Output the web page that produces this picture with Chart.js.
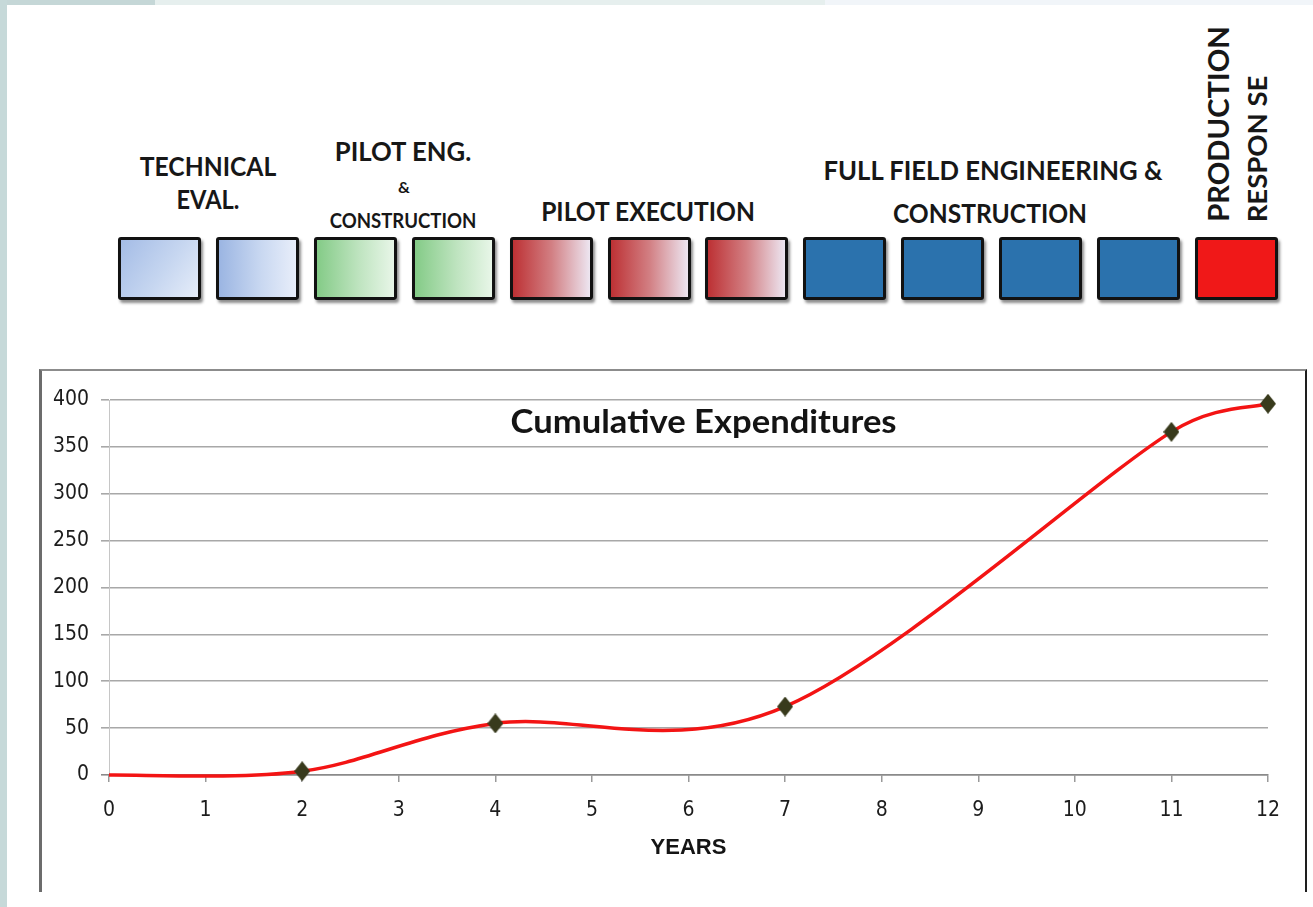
<!DOCTYPE html>
<html>
<head>
<meta charset="utf-8">
<title>Cumulative Expenditures</title>
<script src="https://cdn.jsdelivr.net/npm/chart.js@4.4.1/dist/chart.umd.min.js"></script>
<style>
  html, body { margin: 0; padding: 0; background: #fff; }
  body { width: 1313px; height: 907px; position: relative; overflow: hidden;
         font-family: Lato, "Open Sans", sans-serif; }
  .strip { position: absolute; }
  .phase { position: absolute; font-weight: 700; color: #171717; white-space: nowrap;
           line-height: 1; letter-spacing: 0; }
  .box { position: absolute; top: 237px; width: 77px; height: 57px;
         border: 3px solid #121212; border-radius: 3px;
         box-shadow: 2px 3px 3px rgba(0,0,0,0.45); }
  #frame { position: absolute; left: 39px; top: 369px; width: 1263px; height: 521px;
           border-left: 3px solid #6c6c6c; border-top: 2px solid #8c8c8c;
           border-right: 2px solid #1e1e1e; }
  #wrap { position: absolute; left: 42px; top: 372px; width: 1262px; height: 518px; }
</style>
</head>
<body>
<div class="strip" style="left:0;top:0;width:155px;height:5px;background:#c5d7d7"></div>
<div class="strip" style="left:155px;top:0;width:670px;height:5px;background:#e6efee"></div>
<div class="strip" style="left:825px;top:0;width:488px;height:5px;background:#f1f5f9"></div>
<div class="strip" style="left:0;top:0;width:7px;height:907px;background:#c6d9d9"></div>

<div id="phases"></div>

<div id="frame"></div>
<div id="wrap"><canvas id="chart"></canvas></div>

<script>
// Project schedule: phase names and how many years each phase lasts
const phaseLabels = [
  ['TECHNICAL', 'EVAL.'],
  ['PILOT ENG.', '&', 'CONSTRUCTION'],
  ['PILOT EXECUTION'],
  ['FULL FIELD ENGINEERING &', 'CONSTRUCTION'],
  ['PRODUCTION', 'RESPON SE']
];
const phaseYears = [2, 2, 3, 4, 1];

// Cumulative expenditures at the end of each milestone year
const years = [0, 2, 4, 7, 11, 12];
const expenditures = [0, 4, 55, 73, 366, 396];

const chartTitle = 'Cumulative Expenditures';
const xAxisTitle = 'YEARS';

// ---- phase boxes, one per year ----
const boxFills = [
  ['linear-gradient(125deg, #a4bce6 0%, #c6d6f0 55%, #e6edf9 100%)',
   'linear-gradient(90deg, #9bb5e2 0%, #c9d8f1 55%, #e8eefa 100%)'],
  ['linear-gradient(90deg, #84cb87 0%, #bfe4c0 55%, #e8f6e8 100%)'],
  ['linear-gradient(90deg, #bd3134 0%, #d27f83 50%, #ede6f1 100%)'],
  ['#2b72ad'],
  ['#f01818']
];
const phasesEl = document.getElementById('phases');
let yearIndex = 0;
phaseYears.forEach((n, p) => {
  for (let k = 0; k < n; k++) {
    const b = document.createElement('div');
    b.className = 'box';
    b.style.left = (118 + yearIndex * 97.9).toFixed(1) + 'px';
    const fills = boxFills[p];
    b.style.background = fills[Math.min(k, fills.length - 1)];
    phasesEl.appendChild(b);
    yearIndex++;
  }
});

// ---- phase captions ----
// [phase, line, centre x, centre y, font size, width, vertical]
const captionLayout = [
  [0, 0, 208, 165, 27, 136, false],
  [0, 1, 208, 198, 27, 63, false],
  [1, 0, 403, 150, 27, 137, false],
  [1, 1, 404, 187, 15, 12, false],
  [1, 2, 403, 220, 20, 147, false],
  [2, 0, 648, 210, 27, 214, false],
  [3, 0, 993, 169, 27, 339, false],
  [3, 1, 990, 212, 27, 194, false],
  [4, 0, 1218, 124, 28, 196, true],
  [4, 1, 1257, 149, 26, 147, true]
];
captionLayout.forEach(([p, l, cx, cy, fs, w, vertical]) => {
  const d = document.createElement('div');
  d.className = 'phase';
  d.textContent = phaseLabels[p][l];
  d.style.left = cx + 'px';
  d.style.top = cy + 'px';
  d.style.fontSize = fs + 'px';
  phasesEl.appendChild(d);
  const k = w / d.offsetWidth;
  d.style.transform = 'translate(-50%, -50%)' + (vertical ? ' rotate(-90deg)' : '') + ' scaleX(' + k.toFixed(3) + ')';
});

// ---- diamond marker ----
function diamond(w, h, color) {
  const c = document.createElement('canvas');
  c.width = w; c.height = h;
  const g = c.getContext('2d');
  g.beginPath();
  g.moveTo(w / 2, 0); g.lineTo(w, h / 2); g.lineTo(w / 2, h); g.lineTo(0, h / 2);
  g.closePath();
  g.fillStyle = color;
  g.fill();
  return c;
}
const marker = diamond(16, 20, '#383a1c');

// Smooth line through the points: Catmull-Rom tangents, with each control
// handle limited to half of the segment it sits on so the curve never overshoots
const smoothCurve = {
  id: 'smoothCurve',
  beforeDatasetDraw(chart, args) {
    const meta = args.meta;
    meta.dataset.updateControlPoints(chart.chartArea, meta.iScale.axis);
    const pts = meta.data;
    const dist = (a, b) => Math.hypot(b.x - a.x, b.y - a.y);
    for (let i = 0; i < pts.length; i++) {
      const p = pts[i], prev = pts[i - 1] || p, next = pts[i + 1] || p;
      const dx = (next.x - prev.x) / 6, dy = (next.y - prev.y) / 6;
      const len = Math.hypot(dx, dy) || 1;
      const k1 = Math.min(1, dist(prev, p) / 2 / len);
      const k2 = Math.min(1, dist(p, next) / 2 / len);
      p.cp1x = p.x - dx * k1; p.cp1y = p.y - dy * k1;
      p.cp2x = p.x + dx * k2; p.cp2y = p.y + dy * k2;
    }
  }
};

// Title written inside the plot area
const innerTitle = {
  id: 'innerTitle',
  afterDraw(chart) {
    const { ctx, chartArea: a } = chart;
    ctx.save();
    ctx.font = 'bold 33px Lato, "Open Sans", sans-serif';
    ctx.fillStyle = '#141414';
    ctx.textAlign = 'center';
    ctx.textBaseline = 'middle';
    const w = ctx.measureText(chartTitle).width;
    ctx.translate(a.left + a.width * 0.513, a.top + 22);
    ctx.scale(386 / w, 1);
    ctx.fillText(chartTitle, 0, 0);
    ctx.restore();
  }
};

const tickFont = { family: '"Liberation Sans Narrow", "Arial Narrow", "DejaVu Sans Condensed", sans-serif', size: 21 };

new Chart(document.getElementById('chart'), {
  type: 'line',
  data: {
    datasets: [{
      data: years.map((x, i) => ({ x, y: expenditures[i] })),
      borderColor: '#f31414',
      borderWidth: 3.5,
      tension: 0.4,
      fill: false,
      clip: false,
      pointStyle: marker,
      pointRadius: years.map((x, i) => (i === 0 ? 0 : 6)),
      pointHoverRadius: years.map((x, i) => (i === 0 ? 0 : 6))
    }]
  },
  options: {
    responsive: true,
    maintainAspectRatio: false,
    animation: false,
    layout: { padding: { top: 28, right: 36, bottom: 0, left: 0 } },
    plugins: { legend: { display: false }, tooltip: { enabled: false } },
    scales: {
      x: {
        type: 'linear',
        min: 0, max: 12,
        ticks: { stepSize: 1, color: '#1c1c1c', font: tickFont, padding: 16, maxRotation: 0 },
        grid: { drawOnChartArea: false, drawTicks: true, tickLength: 7, color: '#9a9a9a', lineWidth: 1.5 },
        border: { display: true, color: '#8a8a8a', width: 1.5 },
        title: { display: true, text: xAxisTitle, color: '#141414',
                 font: { family: '"Liberation Sans", Arial, sans-serif', size: 22, weight: 'bold' },
                 padding: { top: 0, bottom: 29 } },
        afterFit(scale) { scale.height = 115; }
      },
      y: {
        min: 0, max: 400,
        ticks: { stepSize: 50, color: '#1c1c1c', font: tickFont, padding: 12 },
        grid: {
          color: ctx => (ctx.tick && ctx.tick.value === 0 ? '#8a8a8a' : '#a8a8a8'),
          lineWidth: 1.6,
          drawTicks: true,
          tickLength: 8
        },
        border: { display: true, color: '#c6c6c6', width: 1 },
        afterFit(scale) { scale.width = 67; }
      }
    }
  },
  plugins: [smoothCurve, innerTitle]
});
</script>
</body>
</html>
